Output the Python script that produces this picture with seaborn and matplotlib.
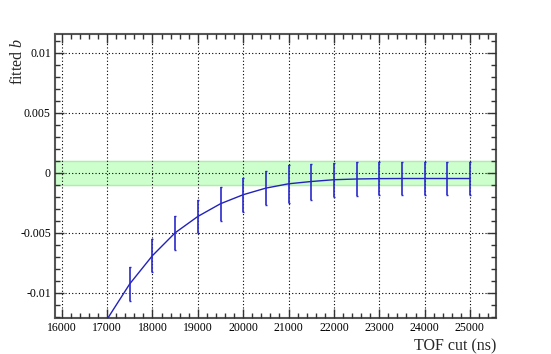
import numpy as np
import pandas as pd
import matplotlib
matplotlib.use("Agg")
import matplotlib.pyplot as plt
import seaborn as sns
from matplotlib.ticker import MultipleLocator

sns.set_style("ticks")
plt.rcParams["font.family"] = ["Liberation Serif", "DejaVu Serif"]
plt.rcParams["mathtext.fontset"] = "custom"
plt.rcParams["mathtext.it"] = "Liberation Serif:italic"
plt.rcParams["mathtext.rm"] = "Liberation Serif"

# TOF cut points and fitted b with errors
tof_cut = [17500, 18000, 18500, 19000, 19500, 20000, 20500, 21000,
           21500, 22000, 22500, 23000, 23500, 24000, 24500, 25000]
fitted_b = [-0.00925, -0.0069, -0.0050, -0.00364, -0.00258, -0.00183, -0.00128, -0.00092,
            -0.00073, -0.00058, -0.00052, -0.00049, -0.00048, -0.00048, -0.00048, -0.00048]
b_err = [0.0014, 0.0014, 0.0014, 0.0014, 0.0014, 0.0014, 0.0014, 0.0016,
         0.0015, 0.0014, 0.0014, 0.0014, 0.0014, 0.0014, 0.0014, 0.0014]

# curve drawn through the points (starts below the frame at 17000)
curve_x = [17000] + tof_cut
curve_y = [-0.0122] + fitted_b

band_lo, band_hi = -0.001, 0.001

df = pd.DataFrame({"tof": curve_x, "b": curve_y})

fig = plt.figure(figsize=(5.51, 3.54), dpi=100)
ax = fig.add_axes([0.0998, 0.1017, 0.8004, 0.8023])

ax.axhspan(band_lo, band_hi, color="#ccffcc", zorder=0)
ax.axhline(band_lo, color="#b8e6b8", lw=1, zorder=0.5)
ax.axhline(band_hi, color="#b8e6b8", lw=1, zorder=0.5)

sns.lineplot(data=df, x="tof", y="b", ax=ax, color="#2222bb", lw=1, zorder=3)
ax.errorbar(tof_cut, fitted_b, yerr=b_err, fmt="none", ecolor="#2a2acc",
            elinewidth=1.2, capsize=1, zorder=4)

ax.set_xlim(15850, 25575)
ax.set_ylim(-0.0121, 0.01156)

ax.xaxis.set_major_locator(MultipleLocator(1000))
ax.xaxis.set_minor_locator(MultipleLocator(200))
ax.yaxis.set_minor_locator(MultipleLocator(0.001))
ax.set_yticks([-0.01, -0.005, 0, 0.005, 0.01])
ax.set_yticklabels(["-0.01", "-0.005", "0", "0.005", "0.01"])

ax.grid(True, which="major", color="black", ls=(0, (1, 2)), lw=0.8, zorder=1)
ax.set_axisbelow(False)

ax.tick_params(which="both", direction="in", top=True, right=True,
               labelsize=8.5, colors="#333333", labelcolor="black", pad=3)
ax.tick_params(which="major", length=6.5, width=1)
ax.tick_params(which="minor", length=3.5, width=1)

for s in ax.spines.values():
    s.set_color("#555555")
    s.set_linewidth(1.5)

ax.set_xlabel("TOF cut (ns)", fontsize=11.5, loc="right", labelpad=3)
ax.set_ylabel("")
fig.text(18 / 551, 1 - 61 / 354, "fitted $b$", fontsize=11.5, rotation=90,
         ha="center", va="center")

fig.savefig("out.png", dpi=100)
